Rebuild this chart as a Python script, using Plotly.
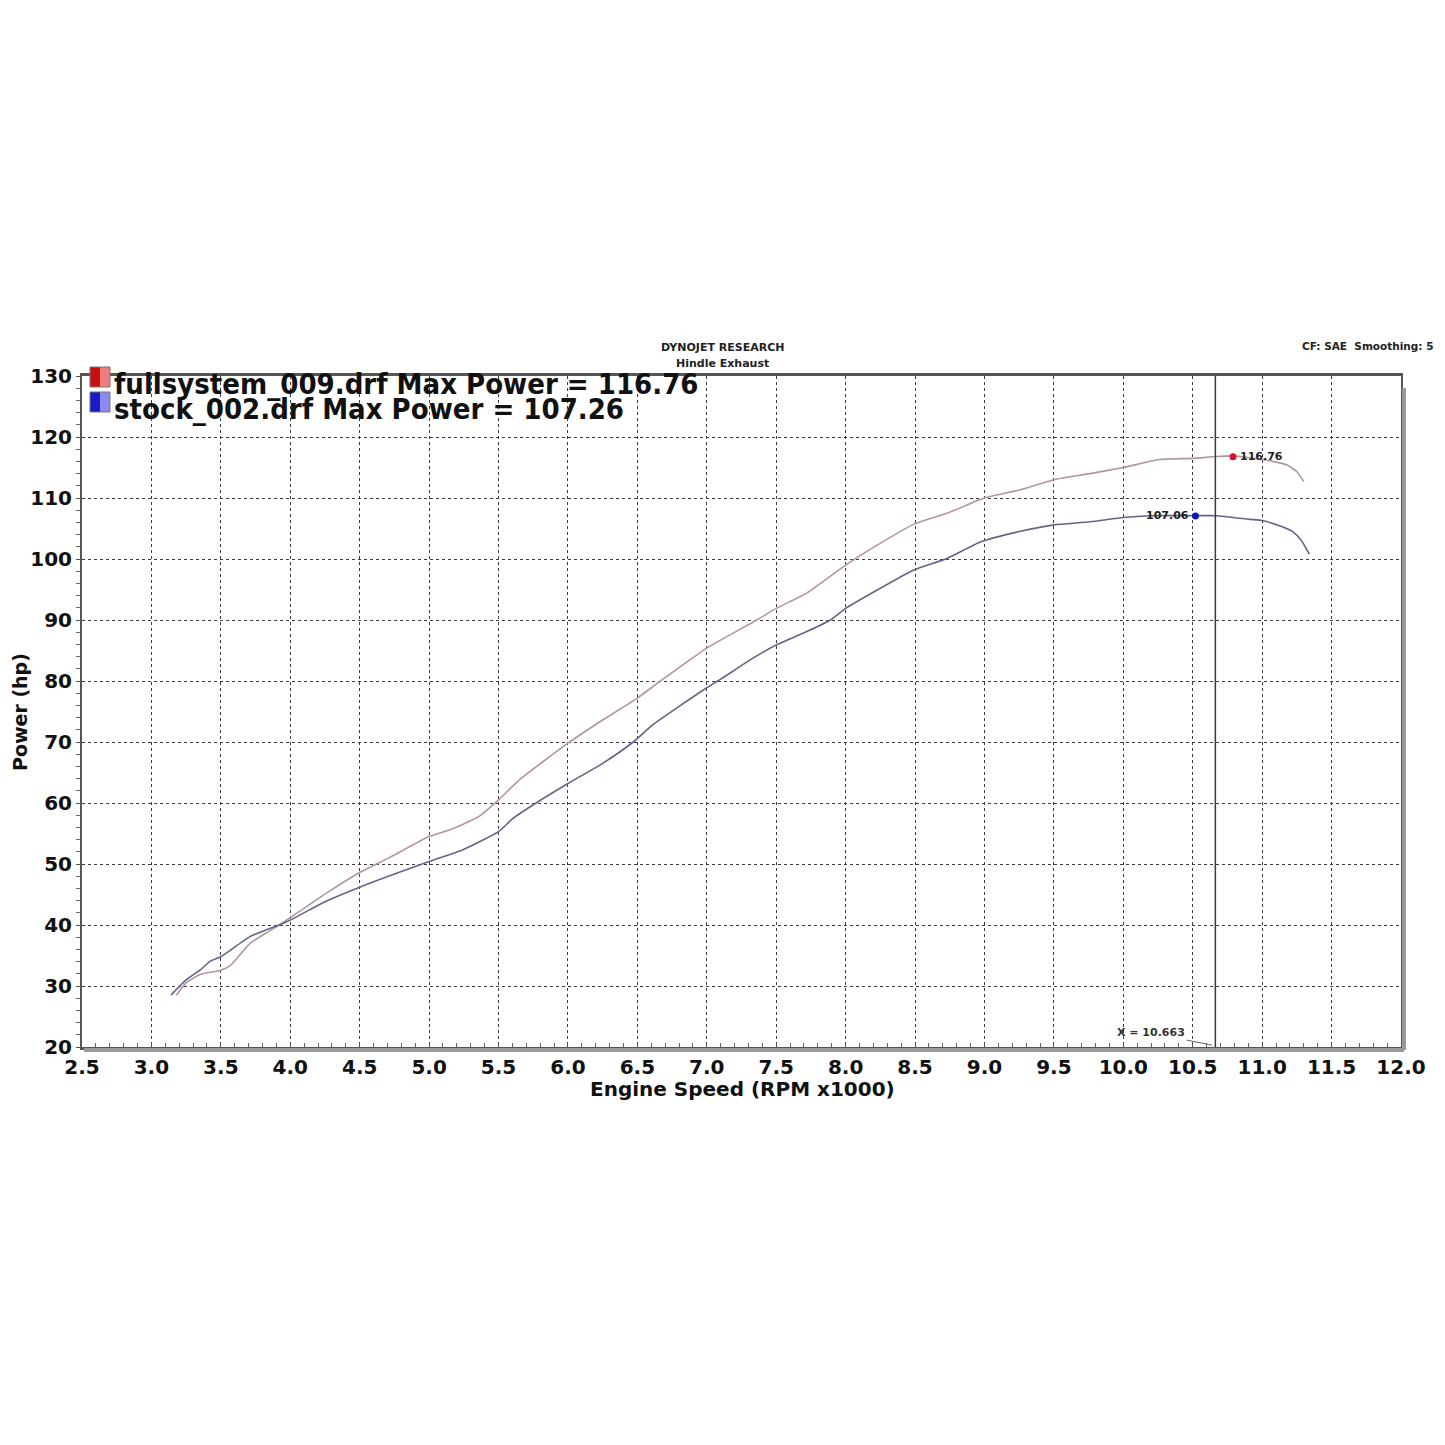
import plotly.graph_objects as go

# ---- data ----
full_rpm = [3.18, 3.25, 3.35, 3.50, 3.57, 3.71, 3.85, 3.92, 4.00, 4.28, 4.50, 4.71, 5.00, 5.15,
            5.36, 5.50, 5.65, 6.00, 6.25, 6.50, 6.66, 6.85, 7.00, 7.36, 7.50, 7.72, 8.00, 8.15,
            8.50, 8.73, 9.00, 9.25, 9.50, 9.76, 10.00, 10.26, 10.50, 10.67, 10.79, 11.03, 11.18,
            11.25, 11.30]
full_hp = [28.5, 30.5, 31.9, 32.6, 33.4, 37.0, 39.0, 40.0, 41.2, 45.5, 48.6, 51.0, 54.5, 55.6,
           57.8, 60.5, 63.8, 69.8, 73.6, 77.2, 79.9, 83.0, 85.4, 90.0, 91.9, 94.4, 99.0, 101.2,
           105.8, 107.5, 110.0, 111.3, 113.0, 114.0, 115.0, 116.3, 116.5, 116.8, 116.9, 116.2, 115.4,
           114.3, 112.7]

stock_rpm = [3.14, 3.25, 3.35, 3.42, 3.50, 3.71, 3.92, 4.00, 4.25, 4.50, 5.00, 5.24, 5.50, 5.60,
             5.77, 6.00, 6.25, 6.47, 6.61, 6.85, 7.00, 7.10, 7.33, 7.50, 7.72, 7.89, 8.00, 8.25,
             8.49, 8.73, 8.97, 9.25, 9.50, 9.76, 10.00, 10.19, 10.52, 10.67, 10.91, 11.00, 11.13,
             11.22, 11.28, 11.34]
stock_hp = [28.5, 31.0, 32.6, 34.0, 34.8, 38.1, 40.0, 40.8, 43.8, 46.2, 50.4, 52.3, 55.3, 57.4,
            60.0, 63.2, 66.5, 70.0, 72.8, 76.6, 78.9, 80.3, 83.7, 85.9, 88.1, 90.0, 91.9, 95.2,
            98.2, 100.1, 102.8, 104.5, 105.6, 106.1, 106.8, 107.1, 107.1, 107.1, 106.5, 106.3, 105.4,
            104.5, 103.1, 100.8]

legend_labels = ["fullsystem_009.drf Max Power = 116.76", "stock_002.drf Max Power = 107.26"]
peak_full = (10.79, 116.76, "116.76")
peak_stock = (10.52, 107.06, "107.06")
cursor_x = 10.663
x_ticks = [2.5, 3.0, 3.5, 4.0, 4.5, 5.0, 5.5, 6.0, 6.5, 7.0, 7.5, 8.0, 8.5, 9.0, 9.5,
           10.0, 10.5, 11.0, 11.5, 12.0]
y_ticks = [20, 30, 40, 50, 60, 70, 80, 90, 100, 110, 120, 130]

RED_LINE = "#b4959a"
BLUE_LINE = "#64648a"
FONT = "DejaVu Sans"
COND = "DejaVu Sans Condensed, DejaVu Sans"

fig = go.Figure()
fig.add_trace(go.Scatter(x=full_rpm, y=full_hp, mode="lines",
                         line=dict(color=RED_LINE, width=1.6, shape="spline", smoothing=0.5),
                         showlegend=False))
fig.add_trace(go.Scatter(x=stock_rpm, y=stock_hp, mode="lines",
                         line=dict(color=BLUE_LINE, width=1.6, shape="spline", smoothing=0.5),
                         showlegend=False))
fig.add_trace(go.Scatter(x=[peak_full[0]], y=[peak_full[1]], mode="markers",
                         marker=dict(color="#d01828", size=7), showlegend=False))
fig.add_trace(go.Scatter(x=[peak_stock[0]], y=[peak_stock[1]], mode="markers",
                         marker=dict(color="#1018b0", size=7), showlegend=False))

# screen-pixel helpers (page has an 8px body margin)
PL, PR, PT, PB = 82.0, 1401.0, 376.0, 1047.0
def px_x(p):
    return (p - PL) / (PR - PL)
def px_y(p):
    return (PB - p) / (PB - PT)

shapes = []
shapes.append(dict(type="line", xref="x", yref="paper", x0=cursor_x, x1=cursor_x, y0=0, y1=1,
                   line=dict(color="#3a3a3a", width=1.5), layer="above"))
shapes.append(dict(type="line", xref="paper", yref="paper", x0=px_x(1404), x1=px_x(1404),
                   y0=px_y(1050), y1=px_y(388), line=dict(color="#9a9a9a", width=4)))
shapes.append(dict(type="line", xref="paper", yref="paper", x0=px_x(84), x1=px_x(1404),
                   y0=px_y(1050), y1=px_y(1050), line=dict(color="#9a9a9a", width=4)))
for (top, dark, light) in [(367, "#c81010", "#f07c7c"), (392, "#1a1ac8", "#8a8af0")]:
    shapes.append(dict(type="rect", xref="paper", yref="paper",
                       x0=px_x(90), x1=px_x(100), y0=px_y(top + 20), y1=px_y(top),
                       fillcolor=dark, line=dict(width=0)))
    shapes.append(dict(type="rect", xref="paper", yref="paper",
                       x0=px_x(100), x1=px_x(110), y0=px_y(top + 20), y1=px_y(top),
                       fillcolor=light, line=dict(width=0)))
    shapes.append(dict(type="rect", xref="paper", yref="paper",
                       x0=px_x(90), x1=px_x(110), y0=px_y(top + 20), y1=px_y(top),
                       fillcolor="rgba(0,0,0,0)", line=dict(color="#777", width=1)))

annotations = []
for i, lab in enumerate(legend_labels):
    annotations.append(dict(text=lab, xref="paper", yref="paper", x=px_x(112), y=px_y(384 + 25 * i),
                            xanchor="left", yanchor="middle", showarrow=False,
                            font=dict(family=COND, size=29, color="#111", weight="bold")))
annotations.append(dict(text=peak_full[2], x=peak_full[0], y=peak_full[1], xanchor="left",
                        xshift=5, showarrow=False,
                        font=dict(family=FONT, size=11, color="#222", weight="bold")))
annotations.append(dict(text=peak_stock[2], x=peak_stock[0], y=peak_stock[1], xanchor="right",
                        xshift=-5, showarrow=False,
                        font=dict(family=FONT, size=11, color="#222", weight="bold")))
annotations.append(dict(text="X = 10.663", x=10.64, y=20.3, ax=10.2, ay=22.3,
                        axref="x", ayref="y", showarrow=True, arrowhead=0, arrowwidth=1,
                        arrowcolor="#666", standoff=0,
                        font=dict(family=FONT, size=11, color="#333", weight="bold")))
annotations.append(dict(text="DYNOJET RESEARCH", xref="paper", yref="paper", x=px_x(722),
                        y=px_y(348), showarrow=False, xanchor="center", yanchor="middle",
                        font=dict(family=FONT, size=11, color="#222", weight="bold")))
annotations.append(dict(text="Hindle Exhaust", xref="paper", yref="paper", x=px_x(722),
                        y=px_y(363), showarrow=False, xanchor="center", yanchor="middle",
                        font=dict(family=FONT, size=11, color="#222", weight="bold")))
annotations.append(dict(text="CF: SAE  Smoothing: 5", xref="paper", yref="paper", x=px_x(1436),
                        y=px_y(346), showarrow=False, xanchor="right", yanchor="middle",
                        font=dict(family=FONT, size=10.5, color="#222", weight="bold")))
# axis titles
annotations.append(dict(text="Engine Speed (RPM x1000)", xref="paper", yref="paper",
                        x=px_x(742), y=px_y(1089), showarrow=False, xanchor="center",
                        yanchor="middle",
                        font=dict(family=FONT, size=20, color="#111", weight="bold")))
annotations.append(dict(text="Power (hp)", xref="paper", yref="paper", textangle=-90,
                        x=px_x(20), y=px_y(712), showarrow=False, xanchor="center",
                        yanchor="middle",
                        font=dict(family=FONT, size=19, color="#111", weight="bold")))

fig.update_layout(
    width=1437, height=1437,
    paper_bgcolor="white", plot_bgcolor="white",
    margin=dict(l=74, r=44, t=368, b=398, autoexpand=False),
    shapes=shapes, annotations=annotations,
    showlegend=False,
)
fig.update_xaxes(
    range=[2.5, 12.0], tickvals=x_ticks, ticktext=[f"{v:.1f}" for v in x_ticks],
    showgrid=True, gridcolor="#3c3c3c", griddash="dot", gridwidth=1,
    showline=True, linecolor="#555", linewidth=3, mirror=True,
    ticks="inside", ticklen=4, tickcolor="#555",
    minor=dict(dtick=0.1, ticks="inside", ticklen=4, tickcolor="#666", showgrid=False),
    tickfont=dict(family=FONT, size=20, color="#111", weight="bold"),
    automargin=False, zeroline=False,
)
fig.update_yaxes(
    range=[20, 130], tickvals=y_ticks,
    showgrid=True, gridcolor="#3c3c3c", griddash="dot", gridwidth=1,
    showline=True, linecolor="#555", linewidth=2, mirror=True,
    ticks="outside", ticklen=4, tickcolor="#555",
    minor=dict(dtick=2, ticks="outside", ticklen=4, tickcolor="#666", showgrid=False),
    tickfont=dict(family=FONT, size=20, color="#111", weight="bold"),
    automargin=False, zeroline=False,
)

fig.write_html("out.html")
